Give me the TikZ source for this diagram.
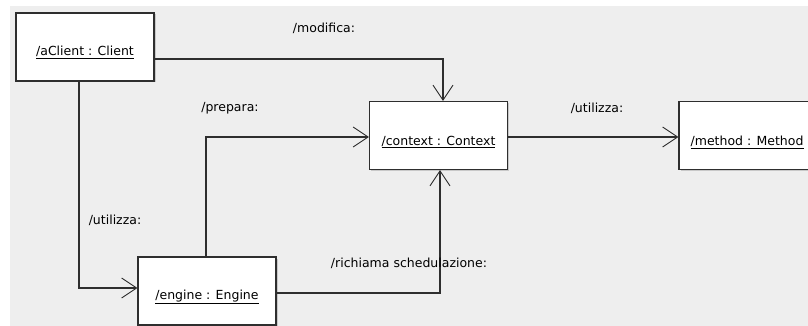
\documentclass[tikz,border=0pt]{standalone}
\usepackage{fontspec}
\setmainfont{DejaVu Sans}
\usetikzlibrary{arrows.meta,shadows}
\definecolor{canvas}{HTML}{EEEEEE}
\definecolor{ink}{HTML}{2E2E2E}
\begin{document}
\begin{tikzpicture}[x=1pt,y=-1pt,
  font=\fontsize{12.5}{14}\selectfont,
  objbox/.style={draw=ink, line width=1.1pt, fill=white, inner sep=0pt,
    minimum width=138pt, minimum height=68pt,
    drop shadow={shadow xshift=1.5pt, shadow yshift=-1.5pt, fill=black!25, opacity=0.8}},
  objname/.style={inner sep=0pt, text=black},
  msg/.style={inner sep=0pt, text=black},
  link/.style={draw=ink, line width=1.1pt, -{Straight Barb[length=15pt,width=20pt,line width=0.9pt]}}]
  \useasboundingbox (0,0) rectangle (808,326);
  \clip (0,0) rectangle (808,326);
  \fill[canvas] (10,6) rectangle (808,326);

  % objects
  \node[objbox] (client)  at (85,47)    {};
  \node[objbox] (context) at (438.5,135.5) {};
  \node[objbox] (method)  at (748,135.5)  {};
  \node[objbox] (engine)  at (207,291)   {};

  \node[objname] at ([yshift=-5pt]client.center)  {\underline{/aClient : Client}};
  \node[objname] at ([yshift=-6.5pt]context.center) {\underline{/context : Context}};
  \node[objname, anchor=west] at ([xshift=12pt,yshift=-6.5pt]method.west) {\underline{/method : Method}};
  \node[objname] at ([yshift=-6pt]engine.center)  {\underline{/engine : Engine}};

  % messages
  \draw[link] ([yshift=-12pt]client.east) -| ([xshift=4.5pt]context.north);
  \draw[link] ([xshift=-6pt]client.south) |- ([yshift=3pt]engine.west);
  \draw[link] ([xshift=-1pt]engine.north) |- ([yshift=-1.5pt]context.west);
  \draw[link] ([yshift=-2pt]engine.east) -| ([xshift=1.5pt]context.south);
  \draw[link] ([yshift=-1.5pt]context.east) -- ([yshift=-1.5pt]method.west);

  % message labels
  \node[msg] (lmod)  at (324,28)  {/modifica:};
  \node[msg] (lprep) at (230,108) {/prepara:};
  \node[msg] (luse)  at (597,108) {/utilizza:};
  \node[msg] (luse2) at (115,220) {/utilizza:};
  \node[msg] (lrich) at (409,263) {/richiama schedulazione:};
\end{tikzpicture}
\end{document}
